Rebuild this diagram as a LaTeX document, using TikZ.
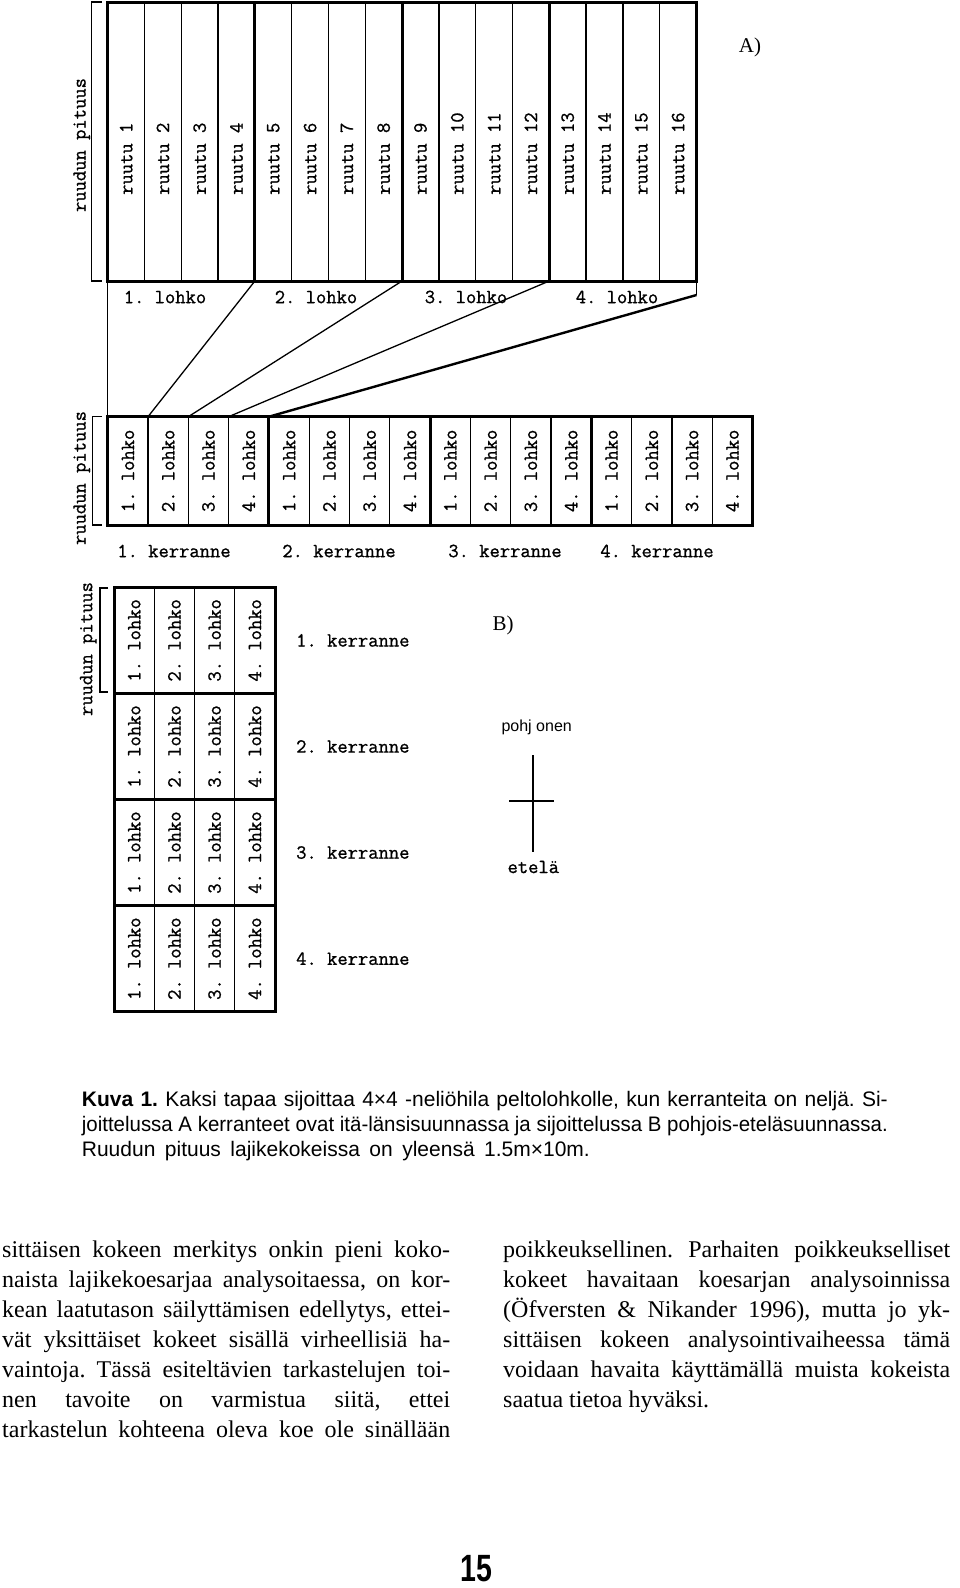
\documentclass[tikz,border=0pt]{standalone}
\usepackage{fontspec}
\usepackage{graphicx}
\usetikzlibrary{positioning}
\newfontfamily\gridfont[FakeBold=1]{Latin Modern Mono}
\newfontfamily\serifbody{Liberation Serif}
\newfontfamily\sansbody{Liberation Sans}
\frenchspacing

% one justified line of text, squeezed if too long
\newsavebox\fitbox
\newcommand\fitline[2]{%
  \sbox\fitbox{#2}%
  \ifdim\wd\fitbox>#1\relax
    \resizebox{#1}{\height}{\usebox\fitbox}%
  \else
    \hbox to #1{#2}%
  \fi}

\tikzset{
  thin line/.style={line width=1.3pt},
  thick line/.style={line width=3pt},
  gridtxt/.style={font=\gridfont\fontsize{20}{22}\selectfont, inner sep=0pt},
  cellA/.style={draw, thin line, minimum width=36.8pt, minimum height=279pt, inner sep=0pt, outer sep=0pt},
  cellB/.style={draw, thin line, minimum width=40.3pt, minimum height=108.3pt, inner sep=0pt, outer sep=0pt},
  cellC/.style={draw, thin line, minimum width=40.25pt, minimum height=106.1pt, inner sep=0pt, outer sep=0pt},
  lettertxt/.style={font=\serifbody\fontsize{21}{24}\selectfont, inner sep=0pt},
  captxt/.style={font=\sansbody\fontsize{21}{25}\selectfont, inner sep=0pt, anchor=base west},
  bodytxt/.style={font=\serifbody\fontsize{24}{30}\selectfont, inner sep=0pt, anchor=base west}
}

\begin{document}
\begin{tikzpicture}[x=1pt,y=-1pt]
    \fill[white] (0,0) rectangle (960,1588);
    \useasboundingbox (0,0) rectangle (960,1588);

    % A) ruudut
    \foreach \i in {1,...,16}{
        \node[cellA] (r\i) at ({107.7+36.8*(\i-0.5)},141.5) {};
        \node[gridtxt, rotate=90, anchor=west] (rt\i) at ({107.7+36.8*(\i-0.5)},195) {ruutu \i};
    }
    \draw[thick line] (r1.north west) rectangle (r16.south east);
    \foreach \j in {4,8,12} \draw[thick line] (r\j.north east) -- (r\j.south east);
    \draw[thin line] (101.7,2) -- (91.7,2) -- (91.7,281) -- (101.7,281);
    \node[gridtxt, rotate=90] (pA) at (81.7,145) {ruudun pituus};
    \node[lettertxt] (labA) at (750,47) {A)};
    \node[gridtxt] (la1) at (165,297) {1. lohko};
    \node[gridtxt] (la2) at (316,297) {2. lohko};
    \node[gridtxt] (la3) at (466,297) {3. lohko};
    \node[gridtxt] (la4) at (617,297) {4. lohko};

    % A) kerranteet
    \foreach \i in {1,...,16}{
        \pgfmathtruncatemacro\n{mod(\i-1,4)+1}
        \node[cellB] (k\i) at ({107.7+40.3*(\i-0.5)},470.85) {};
        \node[gridtxt, rotate=90] (kt\i) at (k\i) {\n. lohko};
    }
    \draw[thick line] (k1.north west) rectangle (k16.south east);
    \foreach \j in {4,8,12} \draw[thick line] (k\j.north east) -- (k\j.south east);
    \draw[thin line] (101.7,416.7) -- (92.3,416.7) -- (92.3,525) -- (101.7,525);
    \node[gridtxt, rotate=90] (pB) at (81.7,478) {ruudun pituus};
    \node[gridtxt] (ka1) at (174,551) {1. kerranne};
    \node[gridtxt] (ka2) at (339,551) {2. kerranne};
    \node[gridtxt] (ka3) at (505,551) {3. kerranne};
    \node[gridtxt] (ka4) at (657,551) {4. kerranne};

    % lohkot -> kerranne
    \draw[thin line] (r1.south west) -- (k1.north west);
    \draw[thin line] (r4.south east) -- (k1.north east);
    \draw[thin line] (r8.south east) -- (k2.north east);
    \draw[thin line] (r12.south east) -- (k3.north east);
    \draw[thin line] (r16.south east) -- ++(0,14) coordinate (rEnd);
    \draw[line width=2.4pt] (rEnd) -- (k4.north east);

    % B)
    \foreach \r in {1,...,4}
        \foreach \c in {1,...,4}{
            \node[cellC] (c\r\c) at ({114+40.25*(\c-0.5)},{587.3+106.1*(\r-0.5)}) {};
            \node[gridtxt, rotate=90] (ct\r\c) at (c\r\c) {\c. lohko};
        }
    \draw[thick line] (c11.north west) rectangle (c44.south east);
    \foreach \r in {1,2,3} \draw[thick line] (c\r1.south west) -- (c\r4.south east);
    \foreach \r in {1,...,4} \node[gridtxt, right=21pt of c\r4] (kc\r) {\r. kerranne};
    \draw[thin line] (108,588) -- (100,588) -- (100,692) -- (108,692);
    \node[gridtxt, rotate=90] (pC) at (88.3,649) {ruudun pituus};
    \node[lettertxt] (labB) at (503,625) {B)};

    % ilmansuunnat
    \node[font=\sansbody\fontsize{16}{18}\selectfont, inner sep=0pt] (pohj) at (536.7,727) {pohj onen};
    \node[gridtxt] (etela) at (533.3,867) {etelä};
    \coordinate (cN) at (532.7,755);
    \coordinate (cS) at (532.7,852);
    \coordinate (cW) at (509,801);
    \coordinate (cE) at (554,801);
    \draw[line width=2pt] (cN) -- (cS);
    \draw[line width=2pt] (cW) -- (cE);

    % kuvateksti
    \node[captxt] (cap1) at (81.7,1106) {\fitline{806pt}{\textbf{Kuva 1.} Kaksi tapaa sijoittaa 4×4 -neliöhila peltolohkolle, kun kerranteita on neljä. Si-}};
    \node[captxt] (cap2) at (81.7,1131) {\fitline{806pt}{joittelussa A kerranteet ovat itä-länsisuunnassa ja sijoittelussa B pohjois-eteläsuunnassa.}};
    \node[captxt] (cap3) at (81.7,1156) {\fitline{508pt}{Ruudun pituus lajikekokeissa on yleensä 1.5m×10m.}};

    % leipäteksti
    \node[bodytxt] (tL1) at (2,1257) {\fitline{448pt}{sittäisen kokeen merkitys onkin pieni koko-}};
    \node[bodytxt] (tL2) at (2,1287) {\fitline{448pt}{naista lajikekoesarjaa analysoitaessa, on kor-}};
    \node[bodytxt] (tL3) at (2,1317) {\fitline{448pt}{kean laatutason säilyttämisen edellytys, ettei-}};
    \node[bodytxt] (tL4) at (2,1347) {\fitline{448pt}{vät yksittäiset kokeet sisällä virheellisiä ha-}};
    \node[bodytxt] (tL5) at (2,1377) {\fitline{448pt}{vaintoja. Tässä esiteltävien tarkastelujen toi-}};
    \node[bodytxt] (tL6) at (2,1407) {\fitline{448pt}{nen tavoite on varmistua siitä, ettei}};
    \node[bodytxt] (tL7) at (2,1437) {\fitline{448pt}{tarkastelun kohteena oleva koe ole sinällään}};
    \node[bodytxt] (tR1) at (503,1257) {\fitline{447pt}{poikkeuksellinen. Parhaiten poikkeukselliset}};
    \node[bodytxt] (tR2) at (503,1287) {\fitline{447pt}{kokeet havaitaan koesarjan analysoinnissa}};
    \node[bodytxt] (tR3) at (503,1317) {\fitline{447pt}{(Öfversten \& Nikander 1996), mutta jo yk-}};
    \node[bodytxt] (tR4) at (503,1347) {\fitline{447pt}{sittäisen kokeen analysointivaiheessa tämä}};
    \node[bodytxt] (tR5) at (503,1377) {\fitline{447pt}{voidaan havaita käyttämällä muista kokeista}};
    \node[bodytxt] (tR6) at (503,1407) {saatua tietoa hyväksi.};

    % sivunumero
    \node[font=\sansbody\bfseries\fontsize{38}{40}\selectfont, inner sep=0pt] (pnum) at (476,1569) {\scalebox{0.75}[1]{15}};
\end{tikzpicture}
\end{document}
